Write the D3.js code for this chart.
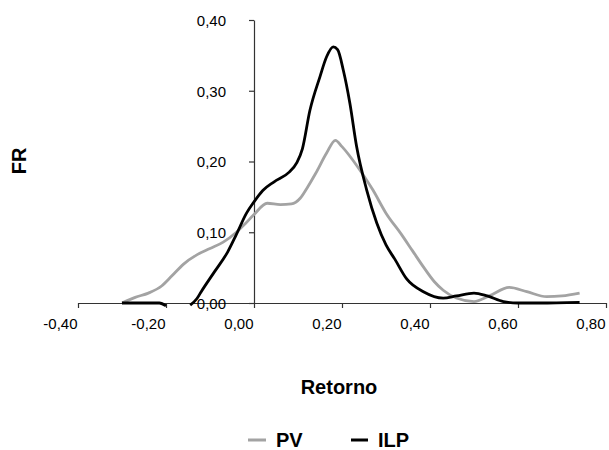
<!DOCTYPE html>
<html>
<head>
<meta charset="utf-8">
<script src="https://cdn.jsdelivr.net/npm/d3@7"></script>
<style>
  html, body { margin: 0; padding: 0; background: #fff; }
  svg { display: block; font-family: "Liberation Sans", Arial, sans-serif; }
</style>
</head>
<body>
<svg id="chart" width="609" height="450"></svg>
<script>
// ---- data ----
const seriesNames = ["PV", "ILP"];
const xTickValues = [-0.4, -0.2, 0.0, 0.2, 0.4, 0.6, 0.8];
const yTickValues = [0.0, 0.1, 0.2, 0.3, 0.4];

const pvX = [-0.30, -0.27, -0.24, -0.21, -0.187, -0.16, -0.13, -0.10, -0.07, -0.04, -0.02, 0.00, 0.03, 0.06, 0.085, 0.105, 0.12, 0.14, 0.165, 0.185, 0.20, 0.235, 0.27, 0.30, 0.335, 0.36, 0.385, 0.41, 0.43, 0.46, 0.50, 0.535, 0.58, 0.62, 0.665, 0.70, 0.74];
const pvY = [0.000, 0.008, 0.014, 0.024, 0.038, 0.055, 0.068, 0.077, 0.086, 0.100, 0.112, 0.125, 0.141, 0.139, 0.140, 0.148, 0.162, 0.183, 0.212, 0.230, 0.221, 0.193, 0.160, 0.127, 0.097, 0.074, 0.051, 0.030, 0.018, 0.007, 0.002, 0.010, 0.022, 0.016, 0.009, 0.010, 0.014];

const ilpX = [-0.30, -0.25, -0.215, -0.20, -0.17, -0.145, -0.13, -0.12, -0.09, -0.06, -0.04, -0.017, 0.00, 0.02, 0.045, 0.08, 0.097, 0.11, 0.127, 0.15, 0.165, 0.18, 0.19, 0.203, 0.218, 0.233, 0.256, 0.279, 0.30, 0.32, 0.347, 0.385, 0.43, 0.46, 0.50, 0.53, 0.567, 0.60, 0.65, 0.74];
const ilpY = [0.000, 0.000, 0.000, -0.004, null, -0.003, 0.006, 0.016, 0.044, 0.072, 0.097, 0.127, 0.143, 0.159, 0.171, 0.185, 0.198, 0.218, 0.272, 0.320, 0.348, 0.362, 0.358, 0.329, 0.282, 0.222, 0.160, 0.113, 0.082, 0.062, 0.034, 0.016, 0.007, 0.010, 0.014, 0.010, 0.002, 0.000, 0.000, 0.001];

const colors = { PV: "#a3a3a3", ILP: "#000000" };

// ---- layout ----
const svg = d3.select("#chart");
const x = d3.scaleLinear().domain([-0.4, 0.8]).range([78, 606]);
const y = d3.scaleLinear().domain([0, 0.4]).range([303, 20]);
const fmt = v => d3.format(".2f")(v).replace(".", ",").replace("−", "-");
const axisColor = "#333";

// x axis
const gx = svg.append("g").attr("transform", `translate(0,${y(0)})`)
  .call(d3.axisBottom(x).tickValues(xTickValues).tickSize(5).tickSizeOuter(0).tickFormat(fmt));
gx.select(".domain").attr("stroke", axisColor).attr("stroke-width", 1.2);
gx.selectAll(".tick line").attr("stroke", axisColor).attr("stroke-width", 1.2);
gx.selectAll(".tick text")
  .attr("text-anchor", "end").attr("x", -1).attr("y", 26).attr("dy", 0)
  .attr("font-size", 15).attr("fill", "#000")
  .style("font-family", "'Liberation Sans', Arial, sans-serif");

// y axis
const gy = svg.append("g").attr("transform", `translate(${x(0)},0)`)
  .call(d3.axisLeft(y).tickValues(yTickValues).tickSize(5).tickSizeOuter(0).tickFormat(fmt));
gy.select(".domain").attr("stroke", axisColor).attr("stroke-width", 1.2);
gy.selectAll(".tick line").attr("stroke", axisColor).attr("stroke-width", 1.2);
gy.selectAll(".tick text")
  .attr("text-anchor", "end").attr("x", -28).attr("dy", "0.35em")
  .attr("font-size", 15).attr("fill", "#000")
  .style("font-family", "'Liberation Sans', Arial, sans-serif");

// lines
function drawSeries(xs, ys, color) {
  const pts = xs.map((d, i) => ({ x: d, y: ys[i] }));
  const line = d3.line()
    .defined(d => d.y !== null)
    .x(d => x(d.x)).y(d => y(d.y))
    .curve(d3.curveMonotoneX);
  svg.append("path").datum(pts)
    .attr("d", line)
    .attr("fill", "none")
    .attr("stroke", color)
    .attr("stroke-width", 2.8)
    .attr("stroke-linejoin", "round")
    .attr("stroke-linecap", "butt");
}
drawSeries(pvX, pvY, colors.PV);
drawSeries(ilpX, ilpY, colors.ILP);

// axis titles
svg.append("text").attr("x", 339).attr("y", 394)
  .attr("text-anchor", "middle").attr("font-size", 20).attr("font-weight", "bold")
  .text("Retorno");
svg.append("text").attr("transform", "translate(26,161) rotate(-90)")
  .attr("text-anchor", "middle").attr("font-size", 20).attr("font-weight", "bold")
  .text("FR");

// legend
const legendItems = [
  { name: seriesNames[0], x0: 248, x1: 266, tx: 276 },
  { name: seriesNames[1], x0: 351, x1: 368, tx: 378 }
];
legendItems.forEach(it => {
  svg.append("line").attr("x1", it.x0).attr("x2", it.x1).attr("y1", 440).attr("y2", 440)
    .attr("stroke", colors[it.name]).attr("stroke-width", 3);
  svg.append("text").attr("x", it.tx).attr("y", 447)
    .attr("font-size", 20).attr("font-weight", "bold").text(it.name);
});
</script>
</body>
</html>
